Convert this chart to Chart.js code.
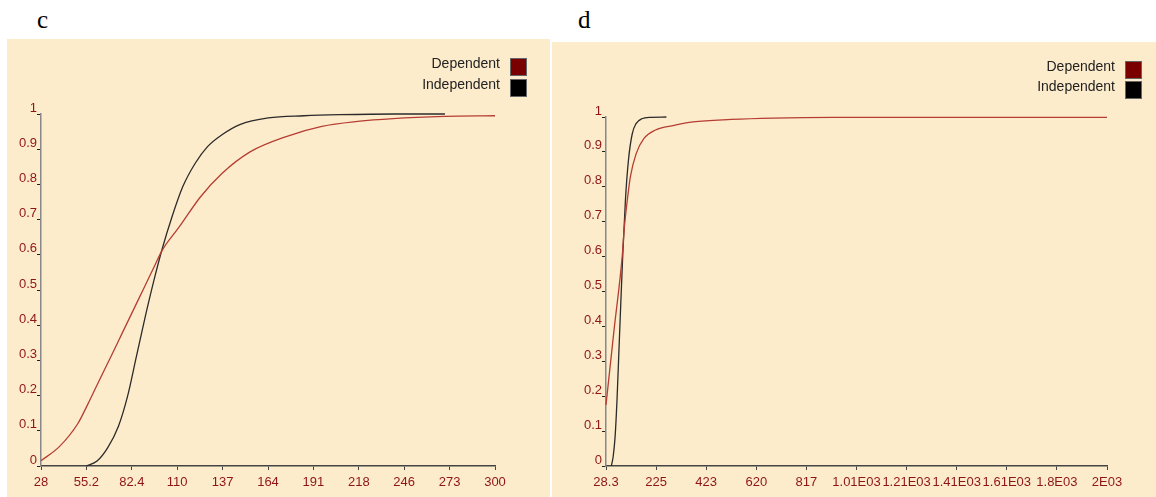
<!DOCTYPE html>
<html>
<head>
<meta charset="utf-8">
<script src="https://cdn.jsdelivr.net/npm/chart.js@4.4.1/dist/chart.umd.min.js"></script>
<style>
  html, body { margin: 0; padding: 0; background: #fff; }
  body { width: 1156px; height: 497px; position: relative; overflow: hidden; }
  canvas { position: absolute; background: #fdeccb; }
  .tag { position: absolute; font-family: "Liberation Serif", "Times New Roman", serif; font-size: 25px; color: #000; }
</style>
</head>
<body>
<div class="tag" style="left:37px; top:6px;">c</div>
<div class="tag" style="left:578px; top:6px;">d</div>
<canvas id="chartC" width="543" height="458" style="left:7px; top:39px;"></canvas>
<canvas id="chartD" width="604" height="455" style="left:552px; top:42px;"></canvas>
<script>
// ── shared y axis ─────────────────────────────────────────────────────────
const yTicks  = [0, 0.1, 0.2, 0.3, 0.4, 0.5, 0.6, 0.7, 0.8, 0.9, 1];
const yLabels = ['0', '0.1', '0.2', '0.3', '0.4', '0.5', '0.6', '0.7', '0.8', '0.9', '1'];

// ── panel c ───────────────────────────────────────────────────────────────
const xTicksC  = [28, 55.2, 82.4, 109.6, 136.8, 164, 191.2, 218.4, 245.6, 272.8, 300];
const xLabelsC = ['28', '55.2', '82.4', '110', '137', '164', '191', '218', '246', '273', '300'];
const depCX = [28, 39, 50, 56, 62.6, 70, 76.5, 83, 89.4, 95.8, 100.5, 110.8, 123.6, 136.4, 153.5, 174.9, 196.3, 217.7, 239, 270, 300];
const depCY = [0.015, 0.055, 0.12, 0.175, 0.24, 0.312, 0.376, 0.44, 0.503, 0.566, 0.612, 0.679, 0.765, 0.831, 0.893, 0.936, 0.965, 0.979, 0.987, 0.993, 0.995];
const indCX = [55.2, 61.6, 68, 74.4, 79.8, 85.1, 90.4, 95.8, 100.5, 106.5, 112.9, 120.4, 127.9, 136.4, 147.1, 164.2, 185.6, 207, 240, 270];
const indCY = [0, 0.014, 0.052, 0.113, 0.197, 0.31, 0.423, 0.53, 0.615, 0.708, 0.793, 0.86, 0.908, 0.941, 0.97, 0.989, 0.995, 0.998, 1, 1];

// ── panel d ───────────────────────────────────────────────────────────────
const xTicksD  = [28.3, 225.47, 422.64, 619.81, 816.98, 1014.15, 1211.32, 1408.49, 1605.66, 1802.83, 2000];
const xLabelsD = ['28.3', '225', '423', '620', '817', '1.01E03', '1.21E03', '1.41E03', '1.61E03', '1.8E03', '2E03'];
const depDX = [28.3, 60, 92, 100, 109, 124, 147, 177, 221, 296, 371, 521, 686, 925, 2000];
const depDY = [0.175, 0.39, 0.6, 0.68, 0.742, 0.828, 0.895, 0.938, 0.962, 0.976, 0.986, 0.993, 0.997, 0.999, 0.999];
const indDX = [49.3, 56.7, 64.2, 71.7, 79.2, 86.7, 94, 104.6, 116.6, 131.6, 146.6, 169, 206, 266];
const indDY = [0, 0.028, 0.085, 0.19, 0.33, 0.47, 0.6, 0.76, 0.876, 0.952, 0.981, 0.995, 0.999, 1];

const RED = '#b53d33', BLACK = '#2b2b2b', TICK_RED = '#8e1515';

Chart.defaults.font.family = '"Liberation Sans", Arial, sans-serif';
Chart.defaults.animation = false;

// legend: text on the left, colour box on the right
const sideLegend = {
  id: 'sideLegend',
  afterDraw(chart, args, opts) {
    const ctx = chart.ctx;
    ctx.save();
    ctx.font = '14px "Liberation Sans", Arial, sans-serif';
    ctx.textAlign = 'right';
    ctx.textBaseline = 'middle';
    chart.data.datasets.forEach((ds, i) => {
      const cy = opts.rows[i];
      ctx.fillStyle = '#222';
      ctx.fillText(ds.label, opts.boxX - 10, cy - 3);
      ctx.fillStyle = ds.boxColor;
      ctx.fillRect(opts.boxX, cy - 9, 17, 18);
      ctx.strokeStyle = '#666';
      ctx.lineWidth = 1;
      ctx.strokeRect(opts.boxX + 0.5, cy - 8.5, 16, 17);
    });
    ctx.restore();
  }
};

function pts(xs, ys) { return xs.map((x, i) => ({ x: x, y: ys[i] })); }

function line(label, xs, ys, color, box) {
  return {
    label: label, data: pts(xs, ys), showLine: true,
    borderColor: color, backgroundColor: color, boxColor: box,
    borderWidth: 1.3, pointRadius: 0, cubicInterpolationMode: 'monotone', clip: 5
  };
}

function makeChart(id, xTicks, xLabels, datasets, padding, legendOpts) {
  return new Chart(document.getElementById(id), {
    type: 'scatter',
    data: { datasets: datasets },
    options: {
      responsive: false,
      layout: { padding: padding },
      plugins: { legend: { display: false }, tooltip: { enabled: false }, sideLegend: legendOpts },
      scales: {
        x: {
          type: 'linear', min: xTicks[0], max: xTicks[xTicks.length - 1],
          afterBuildTicks: axis => { axis.ticks = xTicks.map(v => ({ value: v })); },
          afterFit: s => { s.height = 31; },
          border: { color: '#444', width: 1.5 },
          grid: { drawOnChartArea: false, tickLength: 4, color: '#444' },
          ticks: { autoSkip: false, maxRotation: 0, minRotation: 0, padding: 5, color: TICK_RED,
                   font: { size: 13 }, callback: (v, i) => xLabels[i] }
        },
        y: {
          type: 'linear', min: 0, max: 1,
          afterBuildTicks: axis => { axis.ticks = yTicks.map(v => ({ value: v })); },
          afterFit: s => { s.width = 34; },
          border: { color: '#888', width: 1.5 },
          grid: { drawOnChartArea: false, tickLength: 4, color: '#222' },
          ticks: { padding: 0, labelOffset: -6, color: TICK_RED, font: { size: 13 },
                   callback: (v, i) => yLabels[i] }
        }
      }
    },
    plugins: [sideLegend]
  });
}

makeChart('chartC', xTicksC, xLabelsC, [
  line('Dependent', depCX, depCY, RED, '#7a0000'),
  line('Independent', indCX, indCY, BLACK, '#000')
], { left: 0, top: 75, right: 55, bottom: 0 }, { boxX: 503, rows: [28, 49] });

makeChart('chartD', xTicksD, xLabelsD, [
  line('Dependent', depDX, depDY, RED, '#7a0000'),
  line('Independent', indDX, indDY, BLACK, '#000')
], { left: 20, top: 75, right: 49, bottom: 0 }, { boxX: 573, rows: [28, 48] });
</script>
</body>
</html>
